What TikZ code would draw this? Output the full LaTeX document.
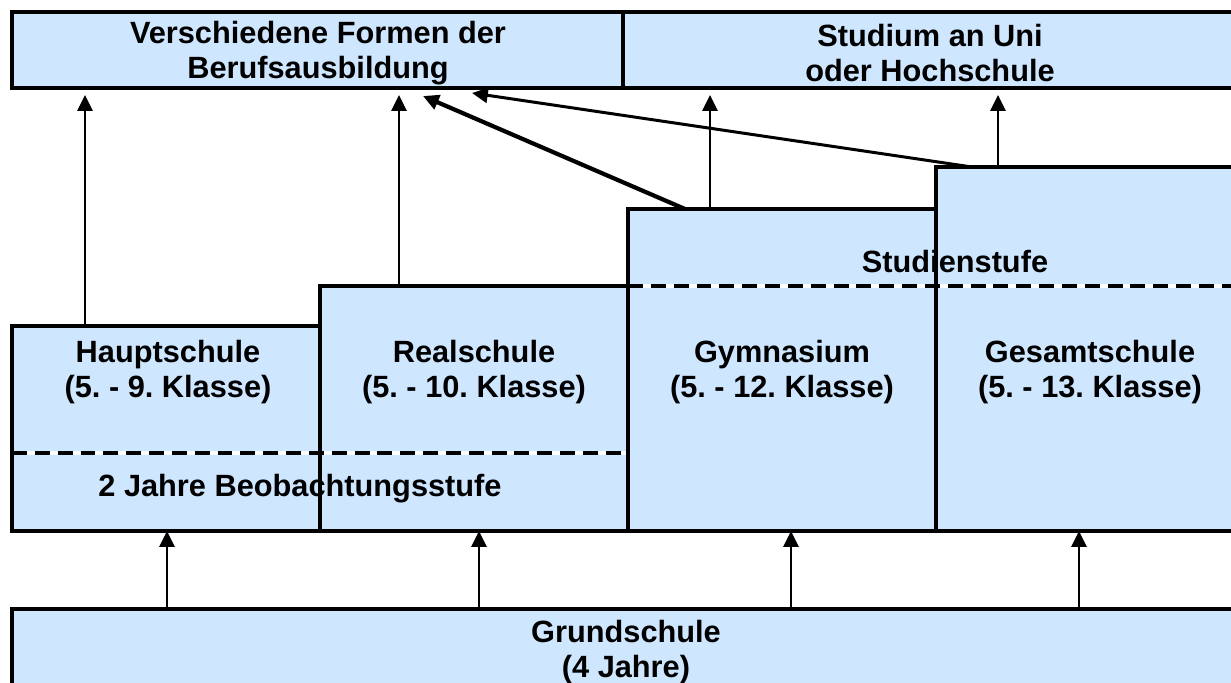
\documentclass[tikz,border=0pt]{standalone}
\usepackage{fontspec}
\setmainfont{Liberation Sans}
\usetikzlibrary{arrows.meta,fit}

\definecolor{schulblau}{RGB}{207,230,255}
\tikzset{
  flaeche/.style={fill=schulblau, draw=none, inner sep=0pt, outer sep=0pt},
  rand/.style={draw=black, line width=2.6pt},
  titel/.style={font=\fontsize{17.5}{20}\selectfont\bfseries\frenchspacing, align=center, inner sep=0pt},
  pfeil/.style={-{Triangle[length=9pt,width=8.5pt]}, line width=1.5pt},
  stufe/.style={line width=2.3pt, dash pattern=on 8.5pt off 4.5pt},
}

\begin{document}
\begin{tikzpicture}[x=0.02cm, y=-0.02cm]
\useasboundingbox (0,0) rectangle (1231,683);
\clip (0,0) rectangle (1231,683);

% Flaechen
\node[flaeche, fit={(12,12) (623,88)}] (beruf) {};
\node[flaeche, fit={(623,12) (1237,88)}] (studium) {};
\node[flaeche, fit={(12,326) (320,531)}] (haupt) {};
\node[flaeche, fit={(320,286) (628,531)}] (real) {};
\node[flaeche, fit={(628,209) (936,531)}] (gym) {};
\node[flaeche, fit={(936,167) (1244,531)}] (gesamt) {};
\node[flaeche, fit={(12,609) (1240,720)}] (grund) {};

% Stufen (gestrichelt)
\coordinate (beoblinie) at (0,453);
\draw[white, line width=2.3pt] (haupt.west |- beoblinie) -- (real.east |- beoblinie);
\draw[stufe] (haupt.west |- beoblinie) -- (real.east |- beoblinie);
\draw[white, line width=2.3pt] (gym.west |- real.north) -- (gesamt.east |- real.north);
\draw[stufe] (gym.west |- real.north) -- (gesamt.east |- real.north);

% Texte
\node[titel] (beruftext) at (318,53) {Verschiedene Formen der\\Berufsausbildung};
\node[titel] (studiumtext) at (930,53) {Studium an Uni\\oder Hochschule};
\node[titel] (haupttext) at (168,372) {Hauptschule\\(5. - 9. Klasse)};
\node[titel] (realtext) at (474,372) {Realschule\\(5. - 10. Klasse)};
\node[titel] (gymtext) at (782,372) {Gymnasium\\(5. - 12. Klasse)};
\node[titel] (gesamttext) at (1090,372) {Gesamtschule\\(5. - 13. Klasse)};
\node[titel] (beobtext) at (300,489) {2 Jahre Beobachtungsstufe};
\node[titel] (studientext) at (955,262) {Studienstufe};
\node[titel] (grundtext) at (626,652) {Grundschule\\(4 Jahre)};

% Raender
\draw[rand] (beruf.north west) rectangle (beruf.south east);
\draw[rand] (studium.north west) rectangle (studium.south east);
\draw[rand] (haupt.north west) rectangle (haupt.south east);
\draw[rand] (real.north west) rectangle (real.south east);
\draw[rand] (gym.north west) rectangle (gym.south east);
\draw[rand] (gesamt.north west) rectangle (gesamt.south east);
\draw[rand] (grund.north west) rectangle (grund.south east);

% Pfeile nach oben
\coordinate (ah) at (85,0);
\coordinate (ar) at (399,0);
\coordinate (ag) at (710,0);
\coordinate (age) at (998,0);
\draw[pfeil, shorten >=0.14cm] (haupt.north -| ah) -- (beruf.south -| ah);
\draw[pfeil, shorten >=0.14cm] (real.north -| ar) -- (beruf.south -| ar);
\draw[pfeil, shorten >=0.14cm] (gym.north -| ag) -- (studium.south -| ag);
\draw[pfeil, shorten >=0.14cm] (gesamt.north -| age) -- (studium.south -| age);

% Schraege Pfeile zur Berufsausbildung
\coordinate (dg) at (685,0);
\coordinate (dge) at (972,0);
\coordinate (zg) at (423,96);
\coordinate (zge) at (472,93);
\draw[pfeil, line width=2.4pt] (gym.north -| dg) -- (zg);
\draw[pfeil, line width=1.7pt] (gesamt.north -| dge) -- (zge);

% Pfeile von der Grundschule
\coordinate (bh) at (167,0);
\coordinate (br) at (479,0);
\coordinate (bg) at (791,0);
\coordinate (bge) at (1079,0);
\draw[pfeil] (grund.north -| bh) -- (haupt.south -| bh);
\draw[pfeil] (grund.north -| br) -- (real.south -| br);
\draw[pfeil] (grund.north -| bg) -- (gym.south -| bg);
\draw[pfeil] (grund.north -| bge) -- (gesamt.south -| bge);

\end{tikzpicture}
\end{document}
